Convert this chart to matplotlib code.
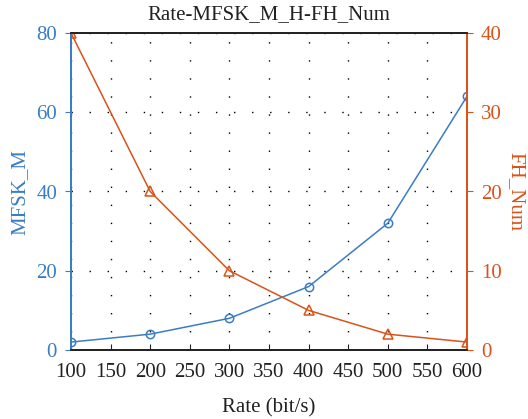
import numpy as np
import matplotlib
matplotlib.use("Agg")
import matplotlib.pyplot as plt

plt.rcParams.update({
    "font.family": "Liberation Serif",
    "font.size": 15,
})

rate = [100, 200, 300, 400, 500, 600]
mfsk_m = [2, 4, 8, 16, 32, 64]
fh_num = [40, 20, 10, 5, 2, 1]

blue = "#3a7dc4"
orange = "#d95319"

fig = plt.figure(figsize=(5.28, 4.19), dpi=100)
ax = fig.add_axes([71 / 528, 1 - 350 / 419, (467 - 71) / 528, (350 - 33) / 419])
ax2 = ax.twinx()

ax.plot(rate, mfsk_m, color=blue, lw=1.1, marker="o", ms=6, mfc="none", mew=1.1)
ax2.plot(rate, fh_num, color=orange, lw=1.1, marker="^", ms=7, mfc="none", mew=1.1)

ax.set_xlim(100, 600)
ax.set_ylim(0, 80)
ax2.set_ylim(0, 40)
ax.set_xticks(np.arange(100, 601, 50))
ax.set_yticks([0, 20, 40, 60, 80])
ax2.set_yticks([0, 10, 20, 30, 40])

ax.grid(True, color="black", linestyle=(0, (1, 12)), linewidth=1.0)

ax.tick_params(axis="x", direction="in", length=4, colors="#222222", labelsize=15, pad=9)
ax.tick_params(axis="y", direction="out", length=4, colors=blue, labelsize=15, pad=6)
ax2.tick_params(axis="y", direction="out", length=4, colors=orange, labelsize=15, pad=6)

for a in (ax, ax2):
    a.spines["top"].set_color("#222222")
    a.spines["bottom"].set_color("#222222")
    a.spines["left"].set_color(blue)
    a.spines["right"].set_color(orange)
    for s in a.spines.values():
        s.set_linewidth(1.3)

ax.set_xlabel("Rate (bit/s)", fontsize=15, color="#222222", labelpad=12)
ax.set_ylabel("MFSK_M", fontsize=15, color=blue, labelpad=5)
ax2.set_ylabel("FH_Num", fontsize=15, color=orange, rotation=-90, labelpad=17)
ax.set_title("Rate-MFSK_M_H-FH_Num", fontsize=15, color="#222222", pad=10)

fig.savefig("out.png", dpi=100)
